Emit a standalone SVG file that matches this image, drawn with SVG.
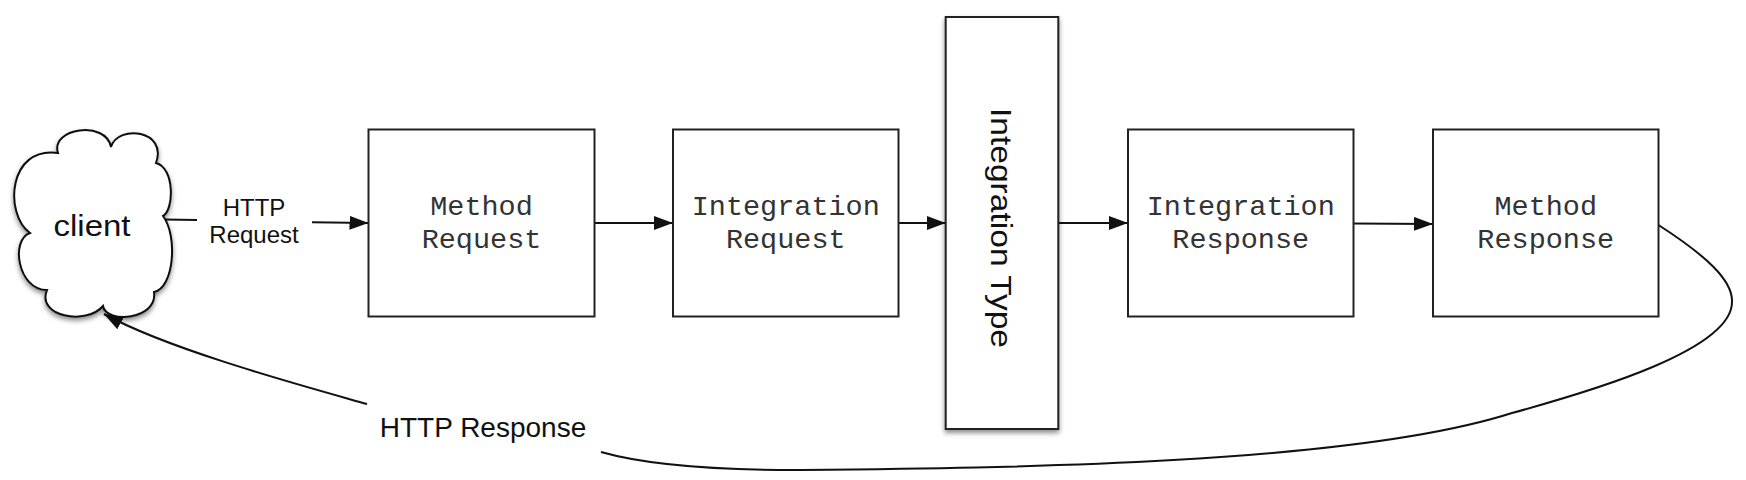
<svg xmlns="http://www.w3.org/2000/svg" width="1746" height="480" viewBox="0 0 1746 480">
<style>
.box{fill:#fff;stroke:#222;stroke-width:2}
.mono{font-family:"Liberation Mono","Courier New",monospace;font-size:28.5px;fill:#333;text-anchor:middle}
.sans{font-family:"Liberation Sans",Arial,Helvetica,sans-serif;fill:#111;text-anchor:middle}
.conn{fill:none;stroke:#111;stroke-width:2}
</style>
<defs>
<marker id="arrow" markerUnits="userSpaceOnUse" markerWidth="20" markerHeight="14" refX="19" refY="7" orient="auto">
<path d="M0,0 L19,7 L0,14 z" fill="#111"/>
</marker>
<filter id="shadow" x="-20%" y="-20%" width="140%" height="140%">
<feDropShadow dx="0" dy="3" stdDeviation="2.5" flood-color="#000" flood-opacity="0.45"/>
</filter>
</defs>
<rect width="1746" height="480" fill="#fff"/>

<g id="connectors">
<path class="conn" d="M165,219.5 L197,220"/>
<path class="conn" d="M312,222.3 L368.5,223" marker-end="url(#arrow)"/>
<path class="conn" d="M594.5,223 L673,223" marker-end="url(#arrow)"/>
<path class="conn" d="M898.5,223 L945.7,223" marker-end="url(#arrow)"/>
<path class="conn" d="M1058.3,223 L1128,223" marker-end="url(#arrow)"/>
<path class="conn" d="M1353.5,223.5 L1433,224" marker-end="url(#arrow)"/>
<path class="conn" d="M1658.5,225 C1705,255 1733,280 1732,302 C1732,350 1592,391 1512,413 C1350,465 1000,468 796,470 C720,470 650,466 601,452"/>
<path class="conn" d="M367,404 C300,385 170,350 104,314" marker-end="url(#arrow)"/>
</g>

<g id="client">
<path filter="url(#shadow)" fill="#fff" stroke="#111" stroke-width="2" d="M58,153 C50,128 106,120 111,147 C118,124 168,130 156,163 C175,168 174,210 163,216 C178,236 174,288 154,292 C158,320 106,324 103,306 C86,326 36,316 47,290 C18,290 10,240 30,233 C4,214 8,146 58,153 Z"/>
<text class="sans" x="92" y="236" font-size="29" textLength="77" lengthAdjust="spacingAndGlyphs">client</text>
</g>

<g id="http-request-label">
<text class="sans" x="254" y="216" font-size="24">HTTP</text>
<text class="sans" x="254" y="243" font-size="24">Request</text>
</g>

<g id="method-request">
<rect class="box" x="368.5" y="129.5" width="226" height="187"/>
<text class="mono" x="481.5" y="215">Method</text>
<text class="mono" x="481.5" y="248">Request</text>
</g>

<g id="integration-request">
<rect class="box" x="673" y="129.5" width="225.5" height="187"/>
<text class="mono" x="785.75" y="215">Integration</text>
<text class="mono" x="785.75" y="248">Request</text>
</g>

<g id="integration-type">
<rect class="box" filter="url(#shadow)" x="945.7" y="17" width="112.6" height="412"/>
<text class="sans" font-size="29" transform="translate(991,228) rotate(90)" textLength="240" lengthAdjust="spacingAndGlyphs">Integration Type</text>
</g>

<g id="integration-response">
<rect class="box" x="1128" y="129.5" width="225.5" height="187"/>
<text class="mono" x="1240.75" y="215">Integration</text>
<text class="mono" x="1240.75" y="248">Response</text>
</g>

<g id="method-response">
<rect class="box" x="1433" y="129.5" width="225.5" height="187"/>
<text class="mono" x="1545.75" y="215">Method</text>
<text class="mono" x="1545.75" y="248">Response</text>
</g>

<g id="http-response-label">
<text class="sans" x="483" y="437" font-size="28">HTTP Response</text>
</g>
</svg>
